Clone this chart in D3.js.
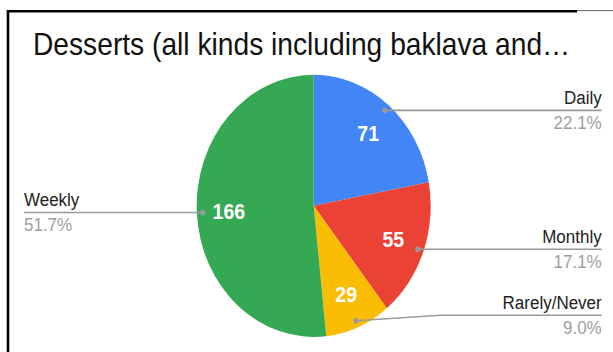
<!DOCTYPE html>
<html>
<head>
<meta charset="utf-8">
<script src="https://cdn.jsdelivr.net/npm/d3@7"></script>
<style>
  html, body { margin: 0; padding: 0; background: #fff; }
  svg { display: block; font-family: "Liberation Sans", Arial, sans-serif; }
</style>
</head>
<body>
<svg id="chart" width="613" height="352"></svg>
<script>
// Survey answers for how often desserts are eaten
const titleText = "Desserts (all kinds including baklava and\u2026";
const categories = ["Daily", "Monthly", "Rarely/Never", "Weekly"];
const counts = [71, 55, 29, 166];
const colors = ["#4285f4", "#ea4335", "#fbbc04", "#34a853"];

const W = 613, H = 352;
const yStretch = 1.12;            // the chart is drawn slightly taller than wide
const h = H / yStretch;

const svg = d3.select("#chart");

// frame edges
svg.append("path")
  .attr("d", "M8,352V11.2H577")
  .attr("fill", "none").attr("stroke", "#000").attr("stroke-width", 2.6);
svg.append("line")
  .attr("x1", 577).attr("x2", 613).attr("y1", 10.6).attr("y2", 10.6)
  .attr("stroke", "#666").attr("stroke-width", 1);

const root = svg.append("g").attr("transform", `scale(1,${yStretch})`);

root.append("text")
  .attr("x", 33).attr("y", 49.1)
  .attr("font-size", 28.2)
  .attr("fill", "#111")
  .text(titleText);

const cx = 313.7, cy = 183.8, R = 117;
const total = d3.sum(counts);

const pie = d3.pie().sort(null).value(d => d)(counts);
const arc = d3.arc().innerRadius(0).outerRadius(R);
const labelArc = d3.arc().innerRadius(85).outerRadius(85);
const dotArc = d3.arc().innerRadius(111).outerRadius(111);

const g = root.append("g").attr("transform", `translate(${cx},${cy})`);

g.selectAll("path.slice")
  .data(pie)
  .join("path")
  .attr("class", "slice")
  .attr("d", arc)
  .attr("fill", (d, i) => colors[i]);

g.selectAll("text.value")
  .data(pie)
  .join("text")
  .attr("class", "value")
  .attr("transform", d => `translate(${labelArc.centroid(d)})`)
  .attr("text-anchor", "middle")
  .attr("dy", "0.36em")
  .attr("font-size", 19.5)
  .attr("font-weight", "bold")
  .attr("fill", "#fff")
  .text(d => d.data);

// outside labels with leader lines
const fmt = v => (v / total * 100).toFixed(1) + "%";
const rightEdge = 601.7, leftEdge = 24;
const maxLineY = 281.5;

pie.forEach((d, i) => {
  const [dx, dy] = dotArc.centroid(d);
  const px = cx + dx, py = cy + dy;
  const mid = (d.startAngle + d.endAngle) / 2;
  const right = mid < Math.PI;
  const ly = Math.min(py, maxLineY);
  const endX = right ? rightEdge : leftEdge;

  let pts;
  if (Math.abs(ly - py) > 0.5) {
    pts = [[px, py], [440, ly], [endX, ly]];
  } else {
    pts = [[px, py], [endX, ly]];
  }
  root.append("path")
    .attr("d", d3.line()(pts))
    .attr("fill", "none")
    .attr("stroke", "#9a9a9a")
    .attr("stroke-width", 1.4);
  root.append("circle")
    .attr("cx", px).attr("cy", py).attr("r", 2.6)
    .attr("fill", "#9a9a9a");

  const anchor = right ? "end" : "start";
  root.append("text")
    .attr("x", endX).attr("y", ly - 6)
    .attr("text-anchor", anchor)
    .attr("font-size", 17)
    .attr("fill", "#222")
    .text(categories[i]);
  root.append("text")
    .attr("x", endX).attr("y", ly + 16.4)
    .attr("text-anchor", anchor)
    .attr("font-size", 17)
    .attr("fill", "#9e9e9e")
    .text(fmt(d.data));
});
</script>
</body>
</html>
